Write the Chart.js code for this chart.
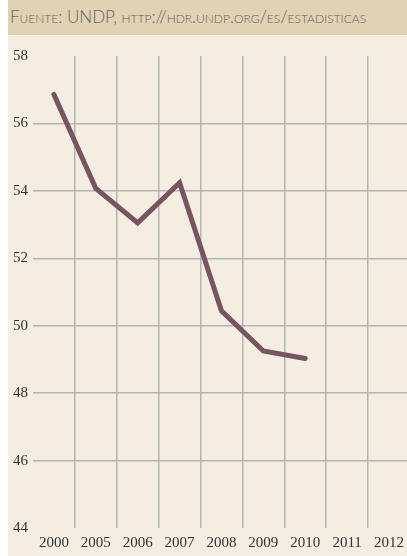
<!DOCTYPE html>
<html>
<head>
<meta charset="utf-8">
<script src="https://cdn.jsdelivr.net/npm/chart.js@4.4.0/dist/chart.umd.min.js"></script>
<style>
  html, body { margin: 0; padding: 0; background: #ffffff; }
  #panel { position: absolute; left: 8px; top: 0; width: 399px; height: 556px; background: #f4ede2; overflow: hidden; }
  #source {
    height: 35px; background: #e0d2b3; color: #666460;
    font-family: 'Lato', 'Open Sans', sans-serif; font-weight: 300; font-size: 17px;
    font-variant: small-caps; line-height: 34px; padding-left: 2px; white-space: nowrap;
  }
  /* the plot runs a little past the right edge, like the original */
  #wrap { position: relative; width: 402px; height: 521px; }
</style>
</head>
<body>
<div id="panel">
  <div id="source">Fuente: UNDP, http://hdr.undp.org/es/estadisticas</div>
  <div id="wrap"><canvas id="chart"></canvas></div>
</div>
<script>
// years on the x axis (not evenly spaced, as in the original)
const years = ['2000', '2005', '2006', '2007', '2008', '2009', '2010', '2011', '2012'];
// values, no data for 2011 / 2012
const values = [56.86, 54.07, 53.05, 54.24, 50.44, 49.25, 49.03, null, null];
const yTicks = [44, 46, 48, 50, 52, 54, 56, 58];

const gridColor = '#b6b4b0';
const tickFont = { family: "'Liberation Serif', 'DejaVu Serif', serif", size: 15 };

const ctx = document.getElementById('chart').getContext('2d');
new Chart(ctx, {
    type: 'line',
    data: {
        labels: years,
        datasets: [{
            data: values,
            borderColor: '#785360',
            borderWidth: 5,
            borderCapStyle: 'round',
            borderJoinStyle: 'miter',
            pointRadius: 0,
            tension: 0,
            fill: false
        }]
    },
    options: {
        responsive: true,
        maintainAspectRatio: false,
        animation: false,
        layout: { padding: { top: 21, right: 0, left: 0, bottom: 0 } },
        plugins: { legend: { display: false }, tooltip: { enabled: false } },
        scales: {
            x: {
                offset: true,
                border: { display: false },
                grid: {
                    offset: true,
                    drawTicks: false,
                    lineWidth: 1.5,
                    // no line at the left and right edges of the plot
                    color: c => (c.index === undefined || c.index === 0) ? 'rgba(0,0,0,0)' : gridColor
                },
                ticks: { color: '#333', font: tickFont, padding: 6, maxRotation: 0, autoSkip: false },
                afterFit: scale => { scale.height = 28; }
            },
            y: {
                min: 44,
                max: 58,
                border: { display: false },
                afterBuildTicks: scale => { scale.ticks = yTicks.map(v => ({ value: v })); },
                grid: {
                    drawTicks: false,
                    lineWidth: 1.5,
                    color: c => (c.tick && (c.tick.value === 44 || c.tick.value === 58)) ? 'rgba(0,0,0,0)' : gridColor
                },
                ticks: { color: '#333', font: tickFont, padding: 5 },
                afterFit: scale => { scale.width = 25; }
            }
        }
    }
});
</script>
</body>
</html>
